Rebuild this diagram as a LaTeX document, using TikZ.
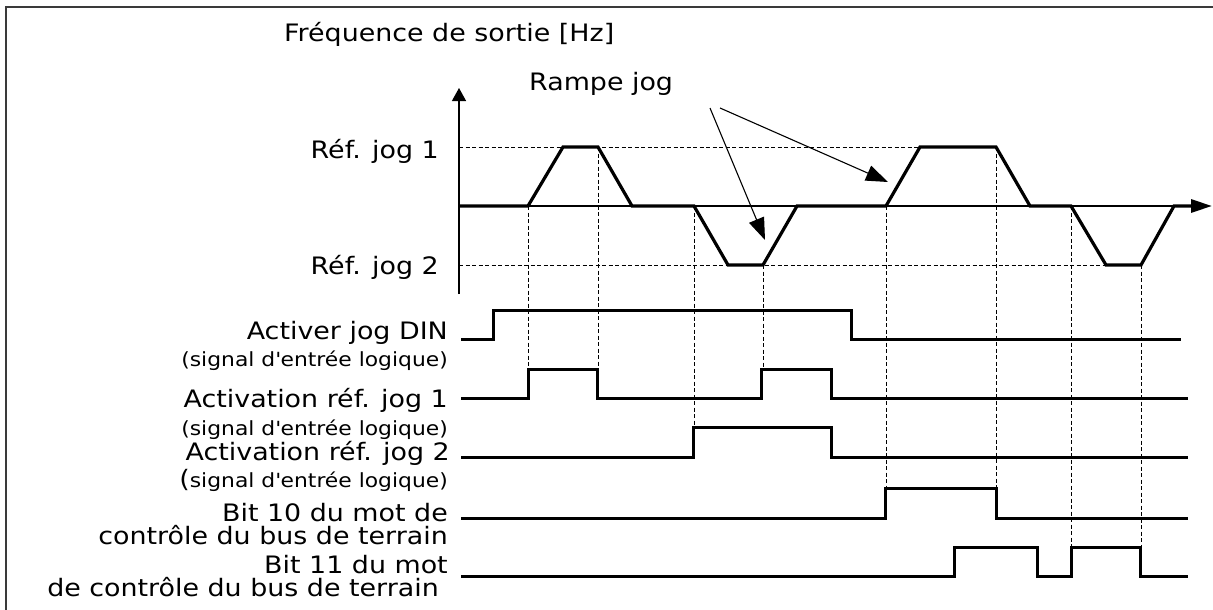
\documentclass[tikz,border=0pt]{standalone}
\usepackage{fontspec}
\setmainfont{DejaVu Sans}[FakeStretch=1.12]
\usepackage{tikz}
\usetikzlibrary{arrows.meta}
\definecolor{cadre}{HTML}{3A3A3A}
\definecolor{trait}{HTML}{000000}
\newcommand{\grand}{\fontsize{24}{26}\selectfont}

\begin{document}
\begin{tikzpicture}[x=1pt,y=-1pt,
  txt/.style={font=\grand,inner sep=0pt,anchor=base east},
  sub/.style={font=\fontsize{19.5}{22}\selectfont,inner sep=0pt,anchor=base east},
  axe/.style={trait,line width=1.3pt},
  grille/.style={trait,line width=0.9pt,dash pattern=on 4pt off 2.5pt},
  courbe/.style={trait,line width=3.2pt},
  signal/.style={trait,line width=3pt},
  fleche/.style={trait,line width=1.1pt,-{Triangle[length=22pt,width=16pt]}}]
  \useasboundingbox (0,0) rectangle (1213,610);
  % Cadre
  \draw[cadre,line width=1.3pt] (6,610) -- (6,7) -- (1213,7);
  % Titres
  \node[txt,anchor=base west] (titre) at (284,42) {Fréquence de sortie [Hz]};
  \node[txt,anchor=base west] (rampe) at (529,90) {Rampe jog};
  \node[txt] (ref1) at (439,158) {Réf. jog 1};
  \node[txt] (ref2) at (439,274) {Réf. jog 2};
  % Axes
  \draw[axe,-{Triangle[length=13pt,width=14pt]}] (459,294) -- (459,88);
  \draw[axe] (459,206) -- (1192,206);
  \draw[grille] (459,147) -- (920,147);
  \draw[grille] (459,265) -- (1141,265);
  % Reperes verticaux
  \draw[grille] (528,206) -- (528,369);
  \draw[grille] (598,147) -- (598,369);
  \draw[grille] (694,206) -- (694,427);
  \draw[grille] (763,265) -- (763,369);
  \draw[grille] (886,206) -- (886,488);
  \draw[grille] (996,147) -- (996,488);
  \draw[grille] (1071,206) -- (1071,547);
  \draw[grille] (1141,265) -- (1141,547);
  % Frequence
  \draw[courbe,-{Triangle[length=21pt,width=13pt]}] (459,206) -- (528,206) -- (563,147) -- (598,147) -- (632,206) -- (694,206) -- (728,265) -- (763,265) -- (797,206) -- (886,206) -- (920,147) -- (996,147) -- (1030,206) -- (1071,206) -- (1106,265) -- (1141,265) -- (1174,206) -- (1212,206);
  % Rampe jog
  \coordinate (dep1) at (710,108);
  \coordinate (dep2) at (720,108);
  \coordinate (cib1) at (765,240);
  \coordinate (cib2) at (888,182);
  \draw[fleche] (dep1) -- (cib1);
  \draw[fleche] (dep2) -- (cib2);
  % Signaux
  \node[txt] (din) at (448,339) {Activer jog DIN};
  \node[sub] (din2) at (448,366) {(signal d\textquotesingle entrée logique)};
  \draw[signal] (461,339) -- (493,339) -- (493,310) -- (851,310) -- (851,339) -- (1181,339);
  \node[txt] (act1) at (448,407) {Activation réf. jog 1};
  \node[sub] (act1b) at (448,435) {(signal d\textquotesingle entrée logique)};
  \draw[signal] (461,398) -- (528,398) -- (528,369) -- (597,369) -- (597,398) -- (761,398) -- (761,369) -- (831,369) -- (831,398) -- (1188,398);
  \node[txt] (act2) at (450,460) {Activation réf. jog 2};
  \node[sub] (act2b) at (448,487) {{\grand(}signal d\textquotesingle entrée logique)};
  \draw[signal] (461,457) -- (693,457) -- (693,427) -- (831,427) -- (831,457) -- (1188,457);
  \node[txt] (bit10) at (448,521) {Bit 10 du mot de};
  \node[txt] (bit10b) at (448,544) {contrôle du bus de terrain};
  \draw[signal] (461,518) -- (885,518) -- (885,488) -- (996,488) -- (996,518) -- (1188,518);
  \node[txt] (bit11) at (448,573) {Bit 11 du mot};
  \node[txt] (bit11b) at (439,596) {de contrôle du bus de terrain};
  \draw[signal] (461,576) -- (954,576) -- (954,547) -- (1037,547) -- (1037,576) -- (1071,576) -- (1071,547) -- (1140,547) -- (1140,576) -- (1188,576);
\end{tikzpicture}
\end{document}
